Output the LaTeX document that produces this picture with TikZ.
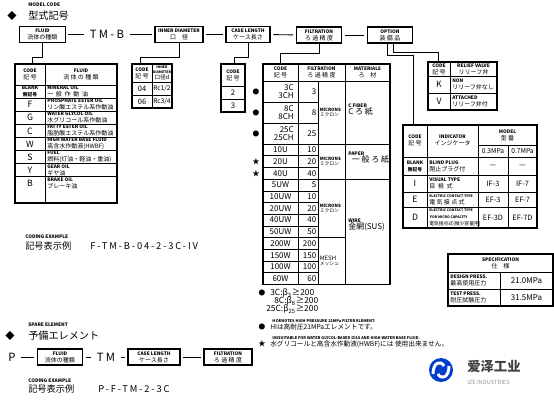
\documentclass[tikz,border=0pt]{standalone}
\usepackage{fontspec}
\setmainfont{Noto Sans CJK JP}
\newfontfamily\widefont[LetterSpace=20]{Noto Sans CJK JP}
\newfontfamily\scfont{Noto Sans CJK SC}
\usetikzlibrary{positioning}

\newcommand\tagfont{\fontsize{3.6}{3.8}\selectfont\bfseries}
\newcommand\jafont{\fontsize{4.5}{5.2}\selectfont}
\newcommand\codefont{\fontsize{6.5}{5.2}\selectfont}
\newcommand\smallja{\fontsize{3.6}{4}\selectfont}

\begin{document}
\begin{tikzpicture}[x=0.75pt, y=-0.75pt,
        % Stili per i riquadri
        codebox/.style={draw, line width=0.9pt, minimum height=12pt, minimum width=34pt, align=center, inner sep=1pt, font=\jafont},
        tabframe/.style={line width=0.8pt},
        tabline/.style={line width=0.45pt},
        % Stili per i testi
        celltxt/.style={align=center, inner sep=0pt, font=\jafont},
        codecell/.style={align=center, inner sep=0pt, font=\codefont},
        desc/.style={align=left, anchor=west, inner sep=0pt, font=\jafont},
        headtxt/.style={anchor=west, inner sep=0pt, font=\fontsize{7.6}{8}\selectfont},
        tagtxt/.style={anchor=west, inner sep=0pt, font=\tagfont},
        spaced/.style={inner sep=2pt, font=\widefont\fontsize{8.5}{9}\selectfont},
        % Stili per le linee
        link/.style={line width=0.7pt, shorten <=2pt, shorten >=2pt},
        wire/.style={line width=0.6pt}
    ]
    \useasboundingbox (0,0) rectangle (554,400);

    % --- MODEL CODE ---
    \node[tagtxt] (modeltag) at (28,5) {MODEL CODE};
    \node[inner sep=0pt, font=\fontsize{7}{7}\selectfont] (dia1) at (12,16) {◆};
    \node[headtxt] (modelhead) at (28,16) {型式記号};

    \node[codebox] (fluid) at (42.5,34.5) {{\tagfont FLUID}\\流体の種類};
    \node[spaced] (tmb) at (107,34.5) {TM-B};
    \node[codebox, minimum width=36pt] (idia) at (179,34.5) {{\tagfont INNER DIAMETER}\\口\quad 径};
    \node[codebox, minimum width=33pt] (clen) at (248,34.5) {{\tagfont CASE LENGTH}\\ケース長さ};
    \node[codebox] (filt) at (319,35) {{\tagfont FILTRATION}\\ろ 過 精 度};
    \node[codebox] (opt) at (390,35) {{\tagfont OPTION}\\装 備 品};

    \draw[link] (fluid) -- (tmb);
    \draw[link] (tmb) -- (idia);
    \draw[link] (idia) -- (clen);
    \draw[link] (clen) -- (filt);
    \draw[link] (filt) -- (opt);

    % --- CONNECTORS ---
    \coordinate (fluidin) at (32,64);
    \coordinate (idiain) at (140,64);
    \coordinate (clenin) at (234,64);
    \coordinate (filtin) at (280,64);
    \coordinate (reliefin) at (438,62);
    \coordinate (indin) at (413,125);
    \draw[wire] (fluid.south) -- ++(0,14.5) -| (fluidin);
    \draw[wire] (idia.south) -- ++(0,14.5) -| (idiain);
    \draw[wire] (clen.south) -- ++(0,14.5) -| (clenin);
    \draw[wire] (filt.south) -- ++(0,10) -| (filtin);
    \draw[wire] ([xshift=2.5pt]opt.south) -- ++(0,9) -| (reliefin);
    \draw[wire] ([xshift=-2pt]opt.south) -- ++(0,12) -| (indin);

    % --- FLUID TABLE ---
    \draw[tabframe] (15,64) rectangle (117,203);
    \draw[tabline] (45,64) -- (45,203);
    \foreach \i in {0,...,7} \draw[tabline] (15,{85+13.1*\i}) -- (117,{85+13.1*\i});
    \node[celltxt] (fluidcode) at (30,74.5) {{\tagfont CODE}\\記\ 号};
    \node[celltxt] (fluidname) at (81,74.5) {{\tagfont FLUID}\\流 体 の 種 類};
    \foreach \c/\txt [count=\i] in {
        {{\tagfont BLANK}\\{\tagfont 無記号}}/{{\tagfont MINERAL OIL}\\一\ \ 般\ \ 作\ \ 動\ \ 油},
        F/{{\tagfont PHOSPHATE ESTER OIL}\\リン酸エステル系作動油},
        G/{{\tagfont WATER GLYCOL OIL}\\水グリコール系作動油},
        C/{{\tagfont FATTY ESTER OIL}\\脂肪酸エステル系作動油},
        W/{{\tagfont HIGH WATER BASE FLUID}\\高含水作動液(HWBF)},
        S/{{\tagfont FUEL}\\燃料(灯油・軽油・重油)},
        Y/{{\tagfont GEAR OIL}\\ギヤ油},
        B/{{\tagfont BRAKE OIL}\\ブレーキ油}} {
        \node[codecell] (fc\i) at (30,{78.45+13.1*\i}) {\c};
        \node[desc] (fd\i) at (47,{78.45+13.1*\i}) {\txt};
    }

    % --- INNER DIAMETER TABLE ---
    \draw[tabframe] (132,64) rectangle (172,108);
    \draw[tabline] (152,64) -- (152,108);
    \foreach \y in {82,95} \draw[tabline] (132,\y) -- (172,\y);
    \node[celltxt] (idcode) at (142,73) {{\tagfont CODE}\\記\ 号};
    \node[celltxt, font=\fontsize{4.2}{3.4}\selectfont] (idname) at (162,73) {{\fontsize{2.6}{3}\selectfont\bfseries INNER}\\{\fontsize{2.6}{3}\selectfont\bfseries DIAMETER}\\口径d};
    \node[codecell, font=\fontsize{5.6}{6}\selectfont] (id1) at (142,88.5) {04};
    \node[codecell, font=\fontsize{4.9}{6}\selectfont] (id1v) at (162,88.5) {Rc1/2};
    \node[codecell, font=\fontsize{5.6}{6}\selectfont] (id2) at (142,101.5) {06};
    \node[codecell, font=\fontsize{4.9}{6}\selectfont] (id2v) at (162,101.5) {Rc3/4};

    % --- CASE LENGTH TABLE ---
    \draw[tabframe] (221,64) rectangle (245,112);
    \foreach \y in {86,99} \draw[tabline] (221,\y) -- (245,\y);
    \node[celltxt] (clcode) at (233,75) {{\tagfont CODE}\\記\ 号};
    \node[codecell, font=\fontsize{5.8}{6}\selectfont] (cl1) at (233,92.5) {2};
    \node[codecell, font=\fontsize{5.8}{6}\selectfont] (cl2) at (233,105.5) {3};

    % --- FILTRATION TABLE ---
    \draw[tabframe] (263,64) rectangle (390,284.4);
    \foreach \x in {298,345} \draw[tabline] (\x,64) -- (\x,284.4);
    \draw[tabline] (318,81) -- (318,284.4);
    \foreach \y in {81,102,123,144,155.7,167.4,179.1,190.8,202.5,214.2,225.9,237.6,249.3,261,272.7}
        \draw[tabline] (263,\y) -- (318,\y);
    \foreach \y in {81,144,179.1} \draw[tabline] (318,\y) -- (390,\y);
    \draw[tabline] (318,237.6) -- (345,237.6);
    \node[celltxt] (ftcode) at (280.5,72.5) {{\tagfont CODE}\\記\ 号};
    \node[celltxt] (ftname) at (321.5,72.5) {{\tagfont FILTRATION}\\ろ 過 精 度};
    \node[celltxt] (ftmat) at (367.5,72.5) {{\tagfont MATERIALS}\\ろ\quad 材};
    \foreach \c/\n/\y [count=\i] in {{3C\\3CH}/3/91.5, {8C\\8CH}/8/112.5, {25C\\25CH}/25/133.5} {
        \node[codecell, align=right, anchor=east, font=\fontsize{6}{6.3}\selectfont] (dc\i) at (294,\y) {\c};
        \node[codecell, anchor=east, font=\fontsize{6}{6.3}\selectfont] (dn\i) at (316.5,\y) {\n};
        \node[inner sep=0pt, font=\fontsize{5}{5}\selectfont] (dot\i) at (256,\y) {●};
    }
    \foreach \c/\n [count=\i from 0] in {10U/10,20U/20,40U/40,5UW/5,10UW/10,20UW/20,40UW/40,50UW/50,200W/200,150W/150,100W/100,60W/60} {
        \node[codecell, font=\fontsize{6}{6.3}\selectfont] (sc\i) at (280.5,{149.85+11.7*\i}) {\c};
        \node[codecell, anchor=east, font=\fontsize{6}{6.3}\selectfont] (sn\i) at (316.5,{149.85+11.7*\i}) {\n};
    }
    \node[inner sep=0pt, font=\fontsize{5.5}{5.5}\selectfont] (star1) at (256,161.55) {★};
    \node[inner sep=0pt, font=\fontsize{5.5}{5.5}\selectfont] (star2) at (256,173.25) {★};
    \foreach \y [count=\i] in {112.5,161.55,208.35}
        \node[desc, font=\smallja] (mic\i) at (319.5,\y) {{\fontsize{3.3}{3.6}\selectfont\bfseries MICRONS}\\ミクロン};
    \node[desc, font=\smallja] (mesh) at (319.5,261) {{\fontsize{4.5}{5}\selectfont MESH}\\メッシュ};
    \node[desc] (mat1) at (348,110) {{\tagfont C FIBER}\\{\fontsize{6}{6}\selectfont C\ ろ\ 紙}};
    \node[desc] (mat2) at (348,158) {{\tagfont PAPER}\\{\fontsize{6}{6}\selectfont \ \ 一\ 般\ ろ\ 紙}};
    \node[desc] (mat3) at (348,225) {{\tagfont WIRE}\\{\fontsize{6}{6}\selectfont 金網(SUS)}};

    % --- NOTES ---
    \node[inner sep=0pt, font=\fontsize{5}{5}\selectfont] (dot4) at (262,293) {●};
    \node[anchor=west, inner sep=0pt, font=\fontsize{6.3}{7}\selectfont] (beta1) at (270,293) {3C:β\textsubscript{3}≥200};
    \node[anchor=west, inner sep=0pt, font=\fontsize{6.3}{7}\selectfont] (beta2) at (274,301) {8C:β\textsubscript{8}≥200};
    \node[anchor=west, inner sep=0pt, font=\fontsize{6.3}{7}\selectfont] (beta3) at (266,309) {25C:β\textsubscript{25}≥200};
    \node[tagtxt, font=\fontsize{2.9}{3}\selectfont\bfseries] (hitag) at (272,321) {H DENOTES HIGH PRESSURE 21MPa FILTER ELEMENT.};
    \node[inner sep=0pt, font=\fontsize{5}{5}\selectfont] (dot5) at (262,327) {●};
    \node[anchor=west, inner sep=0pt, font=\fontsize{5}{5}\selectfont] (hinote) at (270,327) {HIは高耐圧21MPaエレメントです。};
    \node[tagtxt, font=\fontsize{2.9}{3}\selectfont\bfseries] (unstag) at (272,338) {UNSUITABLE FOR WATER GLYCOL-BASED OILS AND HIGH WATER BASE FLUID.};
    \node[inner sep=0pt, font=\fontsize{5.5}{5.5}\selectfont] (star3) at (262,344) {★};
    \node[anchor=west, inner sep=0pt, font=\fontsize{5}{5}\selectfont] (unsnote) at (270,344) {水グリコールと高含水作動液(HWBF)には\ 使用出来ません。};

    % --- RELIEF VALVE TABLE ---
    \draw[tabframe] (428,62) rectangle (497,110);
    \draw[tabline] (450,62) -- (450,110);
    \foreach \y in {76,93} \draw[tabline] (428,\y) -- (497,\y);
    \node[celltxt] (rvcode) at (439,69) {{\tagfont CODE}\\記\ 号};
    \node[celltxt] (rvname) at (473.5,69) {{\tagfont RELIEF VALVE}\\リリーフ弁};
    \node[codecell] (rv1) at (439,84.5) {K};
    \node[desc] (rv1d) at (452,84.5) {{\tagfont NON}\\リリーフ弁なし};
    \node[codecell] (rv2) at (439,101.5) {V};
    \node[desc] (rv2d) at (452,101.5) {{\tagfont ATTACHED}\\リリーフ弁付};

    % --- INDICATOR TABLE ---
    \draw[tabframe] (403,125) rectangle (537,228);
    \foreach \x in {427,478} \draw[tabline] (\x,125) -- (\x,228);
    \draw[tabline] (508,145) -- (508,228);
    \draw[tabline] (478,145) -- (537,145);
    \foreach \y in {157,175,192,207} \draw[tabline] (403,\y) -- (537,\y);
    \node[celltxt] (incode) at (415,140) {{\tagfont CODE}\\記\ 号};
    \node[celltxt] (inname) at (452.5,140) {{\tagfont INDICATOR}\\インジケータ};
    \node[celltxt] (inmodel) at (507.5,135) {{\tagfont MODEL}\\型\ 番};
    \node[codecell, font=\fontsize{5}{5}\selectfont] (inp1) at (493,151) {0.3MPa};
    \node[codecell, font=\fontsize{5}{5}\selectfont] (inp2) at (522.5,151) {0.7MPa};
    \foreach \c/\txt/\a/\b/\y [count=\i] in {
        {{\tagfont BLANK}\\{\tagfont 無記号}}/{{\tagfont BLIND PLUG}\\閉止プラグ付}/—/—/166,
        I/{{\tagfont VISUAL TYPE}\\目\ \ 視\ \ 式}/IF-3/IF-7/183.5,
        E/{{\fontsize{2.6}{3}\selectfont\bfseries ELECTRIC CONTACT TYPE}\\電\ 気\ 接\ 点\ 式}/EF-3/EF-7/199.5,
        D/{{\fontsize{2.6}{3}\selectfont\bfseries ELECTRIC CONTACT TYPE}\\{\fontsize{2.6}{3}\selectfont\bfseries \ FOR MICRO CAPACITY}\\{\smallja 電気接点式(微少容量用)}}/EF-3D/EF-7D/217.5} {
        \node[codecell] (ic\i) at (415,\y) {\c};
        \node[desc] (id\i) at (429,\y) {\txt};
        \node[codecell, font=\fontsize{5.5}{5.5}\selectfont] (ia\i) at (493,\y) {\a};
        \node[codecell, font=\fontsize{5.5}{5.5}\selectfont] (ib\i) at (522.5,\y) {\b};
    }

    % --- SPECIFICATION TABLE ---
    \draw[tabframe] (448,254) rectangle (553,306);
    \foreach \y in {272,289} \draw[tabline] (448,\y) -- (553,\y);
    \draw[tabline] (500,272) -- (500,306);
    \node[celltxt] (spechead) at (500.5,263) {{\tagfont SPECIFICATION}\\仕\quad 様};
    \node[desc] (spec1) at (450,280.5) {{\tagfont DESIGN PRESS.}\\最高使用圧力};
    \node[codecell, font=\fontsize{6}{6}\selectfont] (spec1v) at (526.5,280.5) {21.0MPa};
    \node[desc] (spec2) at (450,297.5) {{\tagfont TEST PRESS.}\\耐圧試験圧力};
    \node[codecell, font=\fontsize{6}{6}\selectfont] (spec2v) at (526.5,297.5) {31.5MPa};

    % --- CODING EXAMPLE ---
    \node[tagtxt] (codingtag) at (25,237) {CODING EXAMPLE};
    \node[anchor=west, inner sep=0pt, font=\fontsize{6.9}{7}\selectfont] (codinghead) at (25,246) {記号表示例};
    \node[anchor=west, inner sep=0pt, font=\widefont\fontsize{7}{7}\selectfont] (codingex) at (90,246) {F-TM-B-04-2-3C-IV};

    % --- SPARE ELEMENT ---
    \node[tagtxt] (sparetag) at (28,325) {SPARE ELEMENT};
    \node[inner sep=0pt, font=\fontsize{7}{7}\selectfont] (dia2) at (10,336) {◆};
    \node[headtxt] (sparehead) at (28,336) {予備エレメント};

    \node[spaced] (pp) at (12,357) {P};
    \node[codebox] (fluid2) at (60,357) {{\tagfont FLUID}\\流体の種類};
    \node[spaced] (tm) at (106,357) {TM};
    \node[codebox, minimum width=39pt] (clen2) at (154,357) {{\tagfont CASE LENGTH}\\ケース長さ};
    \node[codebox, minimum width=36pt] (filt2) at (228,357) {{\tagfont FILTRATION}\\ろ 過 精 度};
    \draw[link] (pp) -- (fluid2);
    \draw[link] (fluid2) -- (tm);
    \draw[link] (tm) -- (clen2);
    \draw[link] (clen2) -- (filt2);

    \node[tagtxt] (codingtag2) at (28,381) {CODING EXAMPLE};
    \node[anchor=west, inner sep=0pt, font=\fontsize{6.9}{7}\selectfont] (codinghead2) at (28,389) {記号表示例};
    \node[anchor=west, inner sep=0pt, font=\widefont\fontsize{7}{7}\selectfont] (codingex2) at (98,389) {P-F-TM-2-3C};

    % --- LOGO ---
    \fill[blue!70!cyan!80!black] (441,370) circle (12);
    \draw[white, line width=2.2pt] (433,374) .. controls (433,362) and (441,360) .. (444,366);
    \draw[white, line width=2.2pt] (449,366) .. controls (449,378) and (441,380) .. (438,374);
    \node[anchor=west, inner sep=0pt, text=black!75, font=\scfont\fontsize{10}{10}\selectfont\bfseries] (logoname) at (467,367) {爱泽工业};
    \node[anchor=west, inner sep=0pt, text=black!40, font=\fontsize{4.3}{5}\selectfont] (logosub) at (467,382) {IZE INDUSTRIES};

\end{tikzpicture}
\end{document}
